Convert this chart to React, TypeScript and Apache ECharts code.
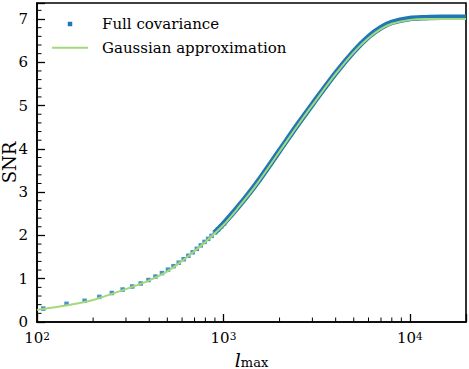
import React, { useEffect, useRef } from "react";
import * as echarts from "echarts";

// Full covariance: individual points (visible as separate squares at low l_max)
const fullL = [108, 144, 180, 216, 252, 288, 324, 360, 396, 432, 468, 504, 540, 576, 612, 648, 684, 720, 756, 792, 828, 864, 900, 936, 972, 1008];
const fullSNR = [0.31, 0.42, 0.49, 0.58, 0.67, 0.75, 0.82, 0.89, 0.97, 1.05, 1.13, 1.21, 1.29, 1.37, 1.45, 1.53, 1.61, 1.69, 1.77, 1.85, 1.92, 1.99, 2.07, 2.14, 2.21, 2.28];
// Full covariance: dense points at higher l_max (they merge into a band)
const fullDenseL = [900, 1000, 1200, 1500, 2000, 2500, 3000, 4000, 5000, 6000, 7000, 8000, 10000, 12000, 15000, 20000];
const fullDenseSNR = [2.07, 2.27, 2.66, 3.19, 3.96, 4.56, 5.03, 5.75, 6.25, 6.59, 6.8, 6.92, 7.01, 7.03, 7.04, 7.04];
// Gaussian approximation
const gaussL = [100, 150, 200, 300, 400, 500, 600, 700, 800, 1000, 1200, 1500, 2000, 2500, 3000, 4000, 5000, 6000, 7000, 8000, 10000, 12000, 15000, 20000];
const gaussSNR = [0.28, 0.4, 0.51, 0.76, 0.96, 1.17, 1.41, 1.64, 1.85, 2.24, 2.64, 3.17, 3.94, 4.54, 5.01, 5.73, 6.23, 6.56, 6.77, 6.89, 6.98, 7.0, 7.0, 7.0];

const xMinorTicks = [200, 300, 400, 500, 600, 700, 800, 900, 2000, 3000, 4000, 5000, 6000, 7000, 8000, 9000];
const yMinorTicks = [0.2, 0.4, 0.6, 0.8, 1.2, 1.4, 1.6, 1.8, 2.2, 2.4, 2.6, 2.8, 3.2, 3.4, 3.6, 3.8, 4.2, 4.4, 4.6, 4.8, 5.2, 5.4, 5.6, 5.8, 6.2, 6.4, 6.6, 6.8, 7.2];

const seriesNames = ["Full covariance", "Gaussian approximation"];

const BLUE = "#1f77b4";
const GREEN = "#a3d97a";
const FONT = "DejaVu Serif";

export default function App() {
  const ref = useRef<HTMLDivElement>(null);
  useEffect(() => {
    if (!ref.current) return;
    const chart = echarts.init(ref.current, null, { renderer: "svg" });
    const option: any = {
      animation: false,
      backgroundColor: "#fff",
      grid: {
        left: 37,
        top: 3,
        width: 429,
        height: 319,
        outerBoundsMode: "none",
        containLabel: false,
        show: true,
        borderColor: "#000",
        borderWidth: 1.6,
        backgroundColor: "transparent",
      },
      xAxis: {
        type: "log",
        logBase: 10,
        min: 100,
        max: 20000,
        axisLine: { show: true, lineStyle: { color: "#000", width: 1.6 } },
        axisTick: { show: true, inside: true, length: 8, lineStyle: { color: "#000", width: 1.3 } },
        splitLine: { show: false },
        axisLabel: {
          margin: 8,
          color: "#000",
          showMinLabel: true,
          showMaxLabel: true,
          formatter: (v: number) => {
            const e = Math.round(Math.log10(v));
            return Math.abs(Math.pow(10, e) - v) < 1e-6 * v ? `{a|10}{b|${e}}` : "";
          },
          rich: {
            a: { fontFamily: FONT, fontSize: 15, color: "#000" },
            b: { fontFamily: FONT, fontSize: 10.5, color: "#000", verticalAlign: "top" },
          },
        },
        name: "{i|l}{s|max}",
        nameLocation: "middle",
        nameGap: 28,
        nameMoveOverlap: false,
        nameTextStyle: {
          rich: {
            i: { fontFamily: FONT, fontStyle: "italic", fontSize: 19, color: "#000" },
            s: { fontFamily: FONT, fontSize: 13, color: "#000", verticalAlign: "bottom" },
          },
        },
      },
      yAxis: {
        type: "value",
        min: 0,
        max: 7.37,
        interval: 1,
        axisLine: { show: true, lineStyle: { color: "#000", width: 1.6 } },
        axisTick: { show: true, inside: true, length: 8, lineStyle: { color: "#000", width: 1.3 } },
        splitLine: { show: false },
        axisLabel: {
          margin: 9,
          color: "#000",
          fontFamily: FONT,
          fontSize: 15,
          formatter: (v: number) => (Math.abs(v - Math.round(v)) < 1e-6 ? String(Math.round(v)) : ""),
        },
        name: "SNR",
        nameLocation: "middle",
        nameGap: 20,
        nameMoveOverlap: false,
        nameTextStyle: { fontFamily: FONT, fontSize: 18, lineHeight: 16, color: "#000" },
      },
      graphic: [
        { type: "rect", shape: { x: 67.75, y: 21.75, width: 4.5, height: 4.5 }, style: { fill: BLUE } },
        {
          type: "text",
          x: 102,
          y: 24,
          style: { text: seriesNames[0], fontFamily: FONT, fontSize: 15, fill: "#000", verticalAlign: "middle" },
        },
        { type: "line", shape: { x1: 52, y1: 47.7, x2: 88, y2: 47.7 }, style: { stroke: GREEN, lineWidth: 2 } },
        {
          type: "text",
          x: 102,
          y: 48,
          style: { text: seriesNames[1], fontFamily: FONT, fontSize: 15, fill: "#000", verticalAlign: "middle" },
        },
      ],
      series: [
        {
          type: "custom",
          silent: true,
          data: xMinorTicks.map((v) => [v, 0]),
          renderItem: (params: any, api: any) => {
            const p = api.coord([api.value(0), 0]);
            return {
              type: "line",
              shape: { x1: p[0], y1: p[1], x2: p[0], y2: p[1] - 4.5 },
              style: { stroke: "#000", lineWidth: 1 },
            };
          },
          z: 5,
        },
        {
          type: "custom",
          silent: true,
          data: yMinorTicks.map((v) => [100, v]),
          renderItem: (params: any, api: any) => {
            const p = api.coord([100, api.value(1)]);
            return {
              type: "line",
              shape: { x1: p[0], y1: p[1], x2: p[0] + 4.5, y2: p[1] },
              style: { stroke: "#000", lineWidth: 1 },
            };
          },
          z: 5,
        },
        {
          name: seriesNames[0],
          type: "line",
          data: fullDenseL.map((l, i) => [l, fullDenseSNR[i]]),
          smooth: 0.3,
          showSymbol: false,
          lineStyle: { color: BLUE, width: 5.5 },
          itemStyle: { color: BLUE },
          z: 2,
        },
        {
          name: seriesNames[0],
          type: "scatter",
          data: fullL.map((l, i) => [l, fullSNR[i]]),
          symbol: "rect",
          symbolSize: 4.5,
          itemStyle: { color: BLUE },
          z: 2,
        },
        {
          name: seriesNames[1],
          type: "line",
          data: gaussL.map((l, i) => [l, gaussSNR[i]]),
          smooth: 0.3,
          showSymbol: false,
          lineStyle: { color: GREEN, width: 2 },
          itemStyle: { color: GREEN },
          z: 3,
        },
      ],
    };
    chart.setOption(option);
    return () => chart.dispose();
  }, []);
  return (
    <div
      ref={ref}
      style={{ position: "absolute", left: 0, top: 0, width: 469, height: 369 }}
    />
  );
}
